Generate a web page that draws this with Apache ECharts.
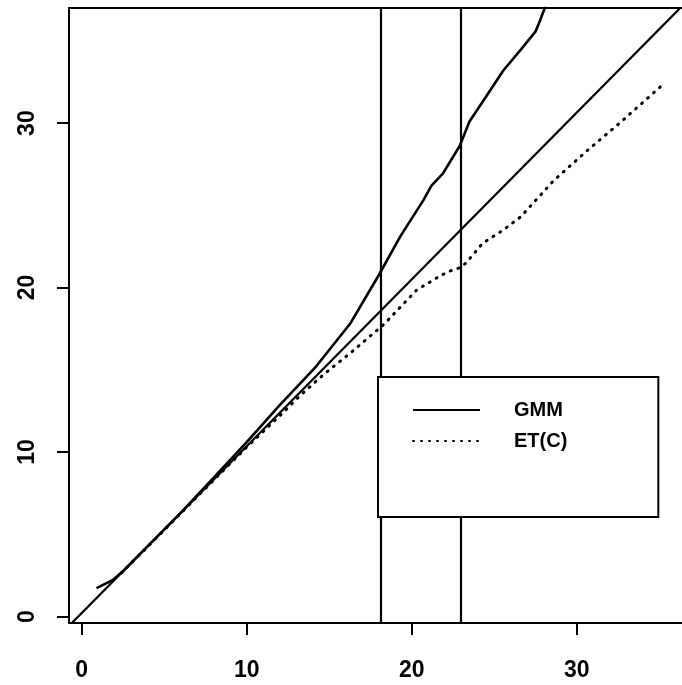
<!DOCTYPE html>
<html>
<head>
<meta charset="utf-8">
<script src="https://cdn.jsdelivr.net/npm/echarts@6/dist/echarts.min.js"></script>
<style>
html,body{margin:0;padding:0;background:#fff;}
#c{width:682px;height:685px;}
</style>
</head>
<body>
<div id="c"></div>
<script>
// ---- data ----
const xTicks = [0, 10, 20, 30];
const yTicks = [0, 10, 20, 30];

const gmmX = [0.9, 1.9, 2.5, 4, 6, 8, 10, 12, 14.2, 16.3, 18.0, 19.3, 20.7, 21.2, 21.9, 22.9, 23.5, 24.5, 25.55, 26.6, 27.5, 27.8, 28.1];
const gmmY = [1.73, 2.23, 2.75, 4.28, 6.3, 8.45, 10.6, 12.85, 15.2, 17.85, 20.75, 23.1, 25.3, 26.2, 26.95, 28.6, 30.1, 31.6, 33.2, 34.45, 35.56, 36.3, 37.1];

const etX = [2.4, 4, 6, 8, 10, 12, 13.2, 14.7, 16.26, 18.3, 20.3, 21.7, 22.3, 22.9, 23.3, 24.3, 25.55, 26.6, 28.6, 30.6, 32.6, 35.06];
const etY = [2.65, 4.25, 6.27, 8.3, 10.3, 12.2, 13.4, 14.75, 16.0, 17.75, 19.85, 20.7, 21.0, 21.2, 21.5, 22.7, 23.5, 24.3, 26.5, 28.3, 30.0, 32.2];

const diagX = [-0.77, 37];
const diagY = [-0.57, 37.74];

const vLines = [18.1, 23.0];

const seriesNames = ['GMM', 'ET(C)'];

// ---- build ----
const zip = (a, b) => a.map((v, i) => [v, b[i]]);

const chart = echarts.init(document.getElementById('c'));
const labelFont = { color: '#000', fontSize: 23, fontWeight: 'bold', fontFamily: 'Liberation Sans, Arial, sans-serif' };
const X_MIN = -0.77, X_MAX = 36.38;

chart.setOption({
  backgroundColor: '#fff',
  animation: false,
  grid: { left: 69, top: 8, bottom: 62, right: 0, show: false },
  xAxis: [{
    type: 'value', min: X_MIN, max: X_MAX,
    splitLine: { show: false },
    axisLine: { show: true, onZero: false, lineStyle: { color: '#000', width: 2 } },
    axisTick: { show: true, length: 12, lineStyle: { color: '#000', width: 2 }, customValues: xTicks },
    axisLabel: Object.assign({ margin: 36, customValues: xTicks }, labelFont)
  }, {
    type: 'value', position: 'top', min: X_MIN, max: X_MAX,
    splitLine: { show: false },
    axisLine: { show: true, onZero: false, lineStyle: { color: '#000', width: 2 } },
    axisTick: { show: false }, axisLabel: { show: false }
  }],
  yAxis: {
    type: 'value', min: -0.395, max: 37,
    splitLine: { show: false },
    axisLine: { show: true, onZero: false, lineStyle: { color: '#000', width: 2 } },
    axisTick: { show: true, length: 12, lineStyle: { color: '#000', width: 2 }, customValues: yTicks },
    axisLabel: Object.assign({ margin: 30, rotate: 90, customValues: yTicks }, labelFont)
  },
  legend: {
    data: seriesNames,
    z: 50,
    orient: 'vertical',
    left: 378, top: 377,
    itemWidth: 67, itemHeight: 14, itemGap: 11,
    padding: [23, 91, 66, 34],
    backgroundColor: '#fff', borderColor: '#000', borderWidth: 2, borderRadius: 0,
    itemStyle: { opacity: 0 },
    textStyle: { color: '#000', fontSize: 20, fontWeight: 'bold', fontFamily: 'Liberation Sans, Arial, sans-serif', padding: [0, 0, 0, 29] },
    selectedMode: false
  },
  series: [
    {
      name: 'diag', type: 'line', data: zip(diagX, diagY), showSymbol: false, symbol: 'none',
      lineStyle: { color: '#000', width: 2.2 }, silent: true,
      markLine: {
        silent: true, symbol: 'none', label: { show: false }, z: 1,
        lineStyle: { color: '#000', width: 2.2, type: 'solid' },
        data: vLines.map(v => ({ xAxis: v }))
      }
    },
    {
      name: 'GMM', type: 'line', data: zip(gmmX, gmmY), symbol: 'none', showSymbol: false,
      itemStyle: { color: '#000' },
      lineStyle: { color: '#000', width: 2.6 }, smooth: false
    },
    {
      name: 'ET(C)', type: 'line', data: zip(etX, etY), symbol: 'none', showSymbol: false,
      itemStyle: { color: '#000' },
      lineStyle: { color: '#000', width: 3, type: [1, 7], cap: 'round' }
    }
  ]
});
</script>
</body>
</html>
